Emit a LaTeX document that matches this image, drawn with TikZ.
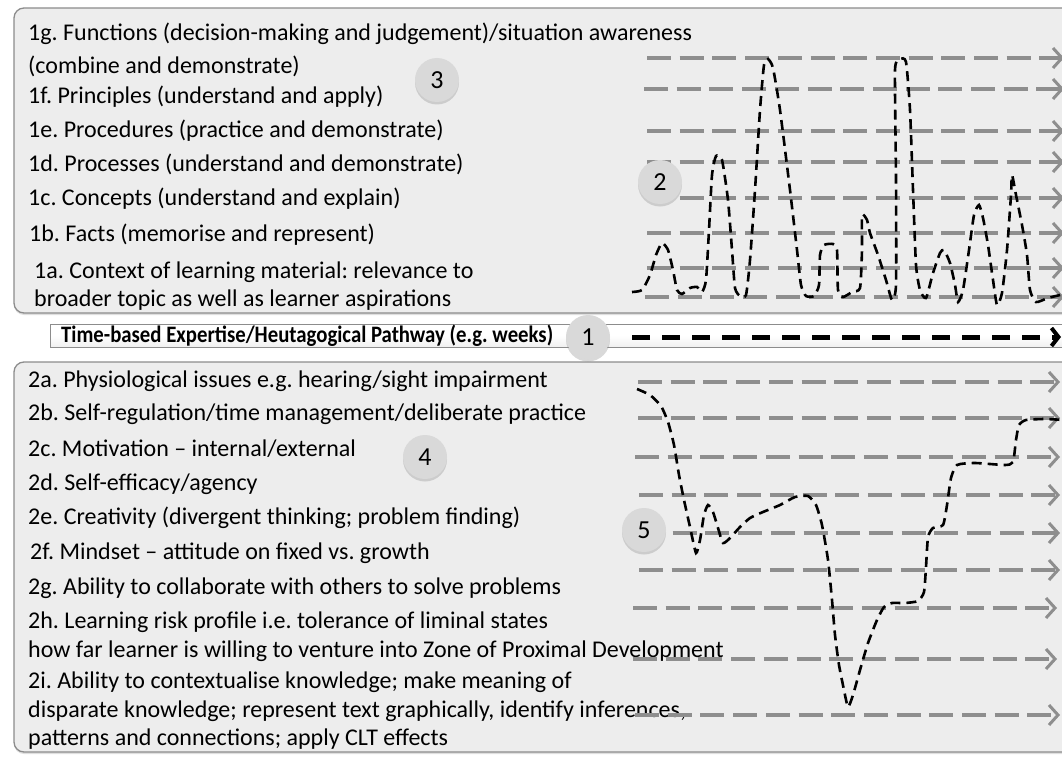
\documentclass[tikz,border=0pt]{standalone}
\usepackage{fontspec}
\setmainfont{Carlito}
\newfontfamily\barfont[FakeStretch=0.88]{Carlito}
\usetikzlibrary{arrows.meta,shadows}
\definecolor{panel}{HTML}{EDEDED}
\definecolor{rim}{HTML}{8C8C8C}
\definecolor{track}{HTML}{8E8E8E}
\definecolor{badge}{HTML}{D9D9D9}
\frenchspacing
\begin{document}
\begin{tikzpicture}[x=1pt,y=-1pt,
  panelbox/.style={draw=rim, line width=1.3pt, fill=panel, rounded corners=10pt,
    drop shadow={shadow xshift=0pt, shadow yshift=-2pt, opacity=0.25}},
  item/.style={anchor=west, inner sep=0pt, font=\fontsize{24}{28}\selectfont},
  badgenode/.style={circle, fill=badge, minimum size=44pt, inner sep=0pt,
    font=\fontsize{26}{30}\selectfont,
    drop shadow={shadow xshift=0pt, shadow yshift=-2.5pt, opacity=0.3}},
  track/.style={draw=track, line width=3.5pt, dash pattern=on 24pt off 8.7pt,
    -{Straight Barb[length=9pt,width=20pt,line width=3pt]}},
  trail/.style={draw=black, line width=2.6pt, dash pattern=on 10pt off 6pt},
  pathway/.style={draw=black, line width=5pt, dash pattern=on 18pt off 12pt,
    -{Straight Barb[length=7pt,width=18pt,line width=4pt]}},
]
\useasboundingbox (0,0) rectangle (1062,757);
\clip (0,0) rectangle (1062,757);

% panels
\path[panelbox] (14,8) rectangle (1090,313);
\path[panelbox] (14,362) rectangle (1090,752);
% pathway bar
\path[draw=rim, line width=1pt, top color=white, bottom color=gray!12, middle color=white]
  (50,324) rectangle (1090,347);

% knowledge items
\node[item] (t1g) at (28,34)  {1g. Functions (decision-making and judgement)/situation awareness};
\node[item] (t1g2) at (28,66) {(combine and demonstrate)};
\node[item] (t1f) at (28,97)  {1f. Principles (understand and apply)};
\node[item] (t1e) at (28,131) {1e. Procedures (practice and demonstrate)};
\node[item] (t1d) at (28,164) {1d. Processes (understand and demonstrate)};
\node[item] (t1c) at (28,199) {1c. Concepts (understand and explain)};
\node[item] (t1b) at (29,235) {1b. Facts (memorise and represent)};
\node[item] (t1a) at (34,272) {1a. Context of learning material: relevance to};
\node[item] (t1a2) at (34,300) {broader topic as well as learner aspirations};

% learner items
\node[item] (t2a) at (28,381) {2a. Physiological issues e.g. hearing/sight impairment};
\node[item] (t2b) at (28,414) {2b. Self-regulation/time management/deliberate practice};
\node[item] (t2c) at (28,449) {2c. Motivation -- internal/external};
\node[item] (t2d) at (28,484) {2d. Self-efficacy/agency};
\node[item] (t2e) at (28,518) {2e. Creativity (divergent thinking; problem finding)};
\node[item] (t2f) at (30,553) {2f. Mindset -- attitude on fixed vs. growth};
\node[item] (t2g) at (28,588) {2g. Ability to collaborate with others to solve problems};
\node[item] (t2h) at (28,622) {2h. Learning risk profile i.e. tolerance of liminal states};
\node[item] (t2h2) at (28,651) {how far learner is willing to venture into Zone of Proximal Development};
\node[item] (t2i) at (28,682) {2i. Ability to contextualise knowledge; make meaning of};
\node[item] (t2i2) at (28,711) {disparate knowledge; represent text graphically, identify inferences,};
\node[item] (t2i3) at (28,739) {patterns and connections; apply CLT effects};

% pathway label
\node[anchor=west, inner sep=0pt, font=\barfont\bfseries\fontsize{23.6}{26}\selectfont]
  (bar) at (61,336) {Time-based Expertise/Heutagogical Pathway (e.g. weeks)};

% level tracks, upper panel
\foreach \y/\x in {58/647, 89/644, 131/647, 162/647, 198/647, 233/647, 268/647, 297/645} {
  \coordinate (us\y) at (\x,\y);
  \coordinate (ue\y) at (1064,\y);
  \draw[track] (us\y) -- (ue\y);
}
% level tracks, lower panel
\foreach \y/\x/\e in {382/638/1060, 418/638/1060, 457/635/1060, 495/639/1060, 533/640/1060,
                      570/639/1060, 608/633/1057, 659/633/1057, 715/635/1060} {
  \coordinate (ls\y) at (\x,\y);
  \coordinate (le\y) at (\e,\y);
  \draw[track] (ls\y) -- (le\y);
}

% pathway arrow
\coordinate (pwstart) at (632,337);
\coordinate (pwend) at (1061,337);
\draw[pathway] (pwstart) -- (pwend);

% knowledge trajectory
\draw[trail] plot[smooth, tension=0.35] coordinates {
  (632,292) (642,290) (650,275) (656,255) (662,243) (668,250) (673,270) (677,290)
  (682,294) (690,288) (697,287) (702,292) (706,280) (709,230) (712,175) (716,156)
  (722,160) (728,200) (732,250) (735,288) (740,296) (746,295) (750,260) (755,190)
  (760,110) (764,65) (768,59) (773,68) (780,110) (790,190) (797,250) (801,285)
  (806,296) (814,296) (819,285) (820,255) (824,245) (833,244) (837,250) (838,290)
  (843,297) (852,292) (860,288) (862,250) (862,215) (867,220) (870,233) (878,255)
  (886,280) (892,300) (896,285) (896,180) (895,70) (900,59) (906,62) (910,110)
  (913,190) (916,265) (920,290) (926,298) (933,273) (940,253) (944,250) (950,263)
  (955,285) (958,302) (963,290) (969,250) (974,215) (979,205) (983,218) (988,245)
  (993,280) (997,305) (1002,293) (1007,250) (1011,195) (1012,175) (1016,195)
  (1022,225) (1027,255) (1030,290) (1036,302) (1048,298) (1064,294)};

% learner trajectory
\draw[trail] plot[smooth, tension=0.35] coordinates {
  (637,389) (650,395) (661,406) (668,422) (674,445) (679,475) (684,500) (690,527)
  (696,553) (700,540) (704,515) (708,505) (713,512) (718,528) (723,543) (730,538)
  (740,527) (750,518) (763,512) (780,505) (795,497) (808,496) (816,505) (822,525)
  (828,560) (832,600) (835,635) (839,665) (844,690) (848,707) (853,695) (860,670)
  (868,643) (877,620) (884,607) (892,603) (905,603) (918,601) (924,592) (926,567)
  (928,537) (933,528) (943,525) (947,505) (951,478) (957,465) (975,463) (1005,465)
  (1013,462) (1016,440) (1019,425) (1026,420) (1045,419) (1064,420)};

% numbered badges
\node[badgenode] (b1) at (588,337) {1};
\node[badgenode] (b2) at (660,182) {2};
\node[badgenode] (b3) at (437,80)  {3};
\node[badgenode] (b4) at (425,457) {4};
\node[badgenode] (b5) at (644,530) {5};
\end{tikzpicture}
\end{document}
